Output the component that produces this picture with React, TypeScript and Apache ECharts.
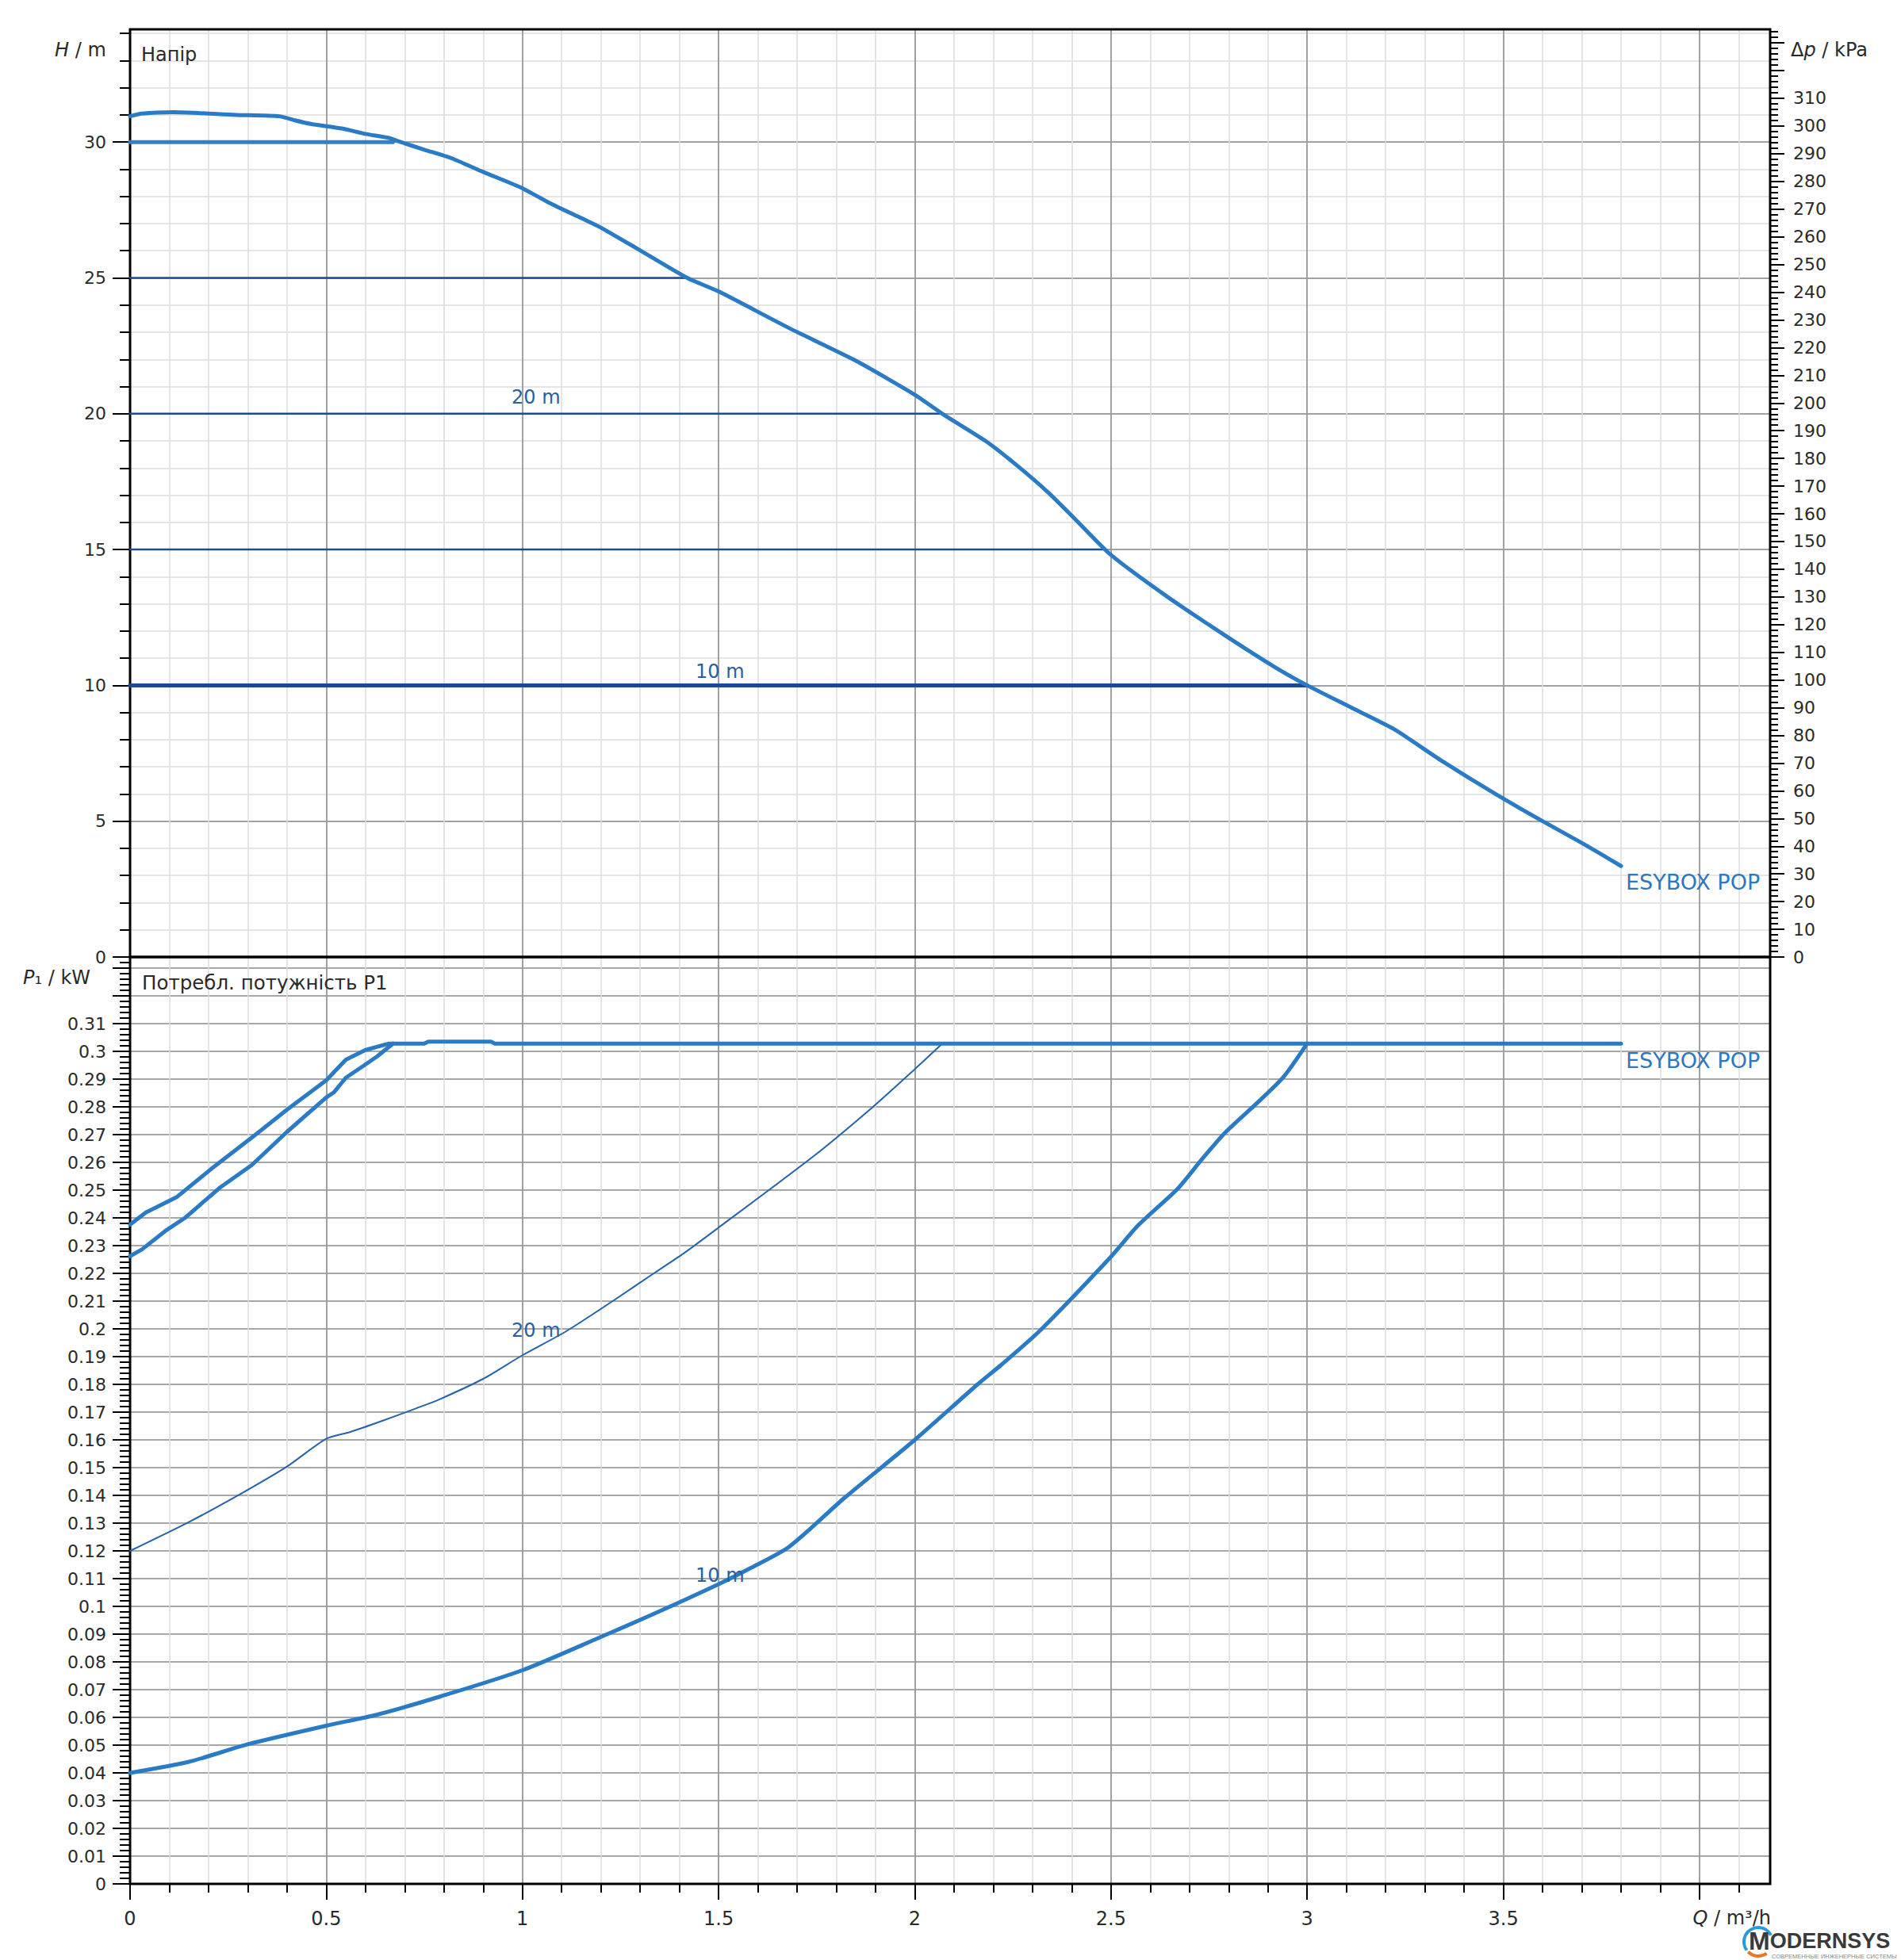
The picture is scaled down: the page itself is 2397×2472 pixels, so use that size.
import React, { useEffect, useRef } from 'react';
import * as echarts from 'echarts';

// ---------- axis ranges ----------
const Q_MAX = 4.18; // m3/h
const H_MAX = 34.15; // m
const P_MAX = 0.334; // kW
const KPA_PER_M = 9.80665;

// ---------- tick values ----------
const steps = (count: number, step: number) =>
  Array.from({ length: count + 1 }, (_, i) => +(i * step).toFixed(4));

const qTickMajor = [0, 0.5, 1, 1.5, 2, 2.5, 3, 3.5, 4];
const qLabels = [0, 0.5, 1, 1.5, 2, 2.5, 3, 3.5];
const qTickMinor = steps(41, 0.1);
const hTickMajor = [0, 5, 10, 15, 20, 25, 30];
const hTickMinor = steps(34, 1);
const kpaTickMajor = steps(33, 10);
const kpaLabels = steps(31, 10);
const kpaTickMinor = steps(167, 2);
const pTickMajor = steps(33, 0.01);
const pLabels = steps(31, 0.01);
const pTickMinor = steps(167, 0.002);

// ---------- head curves (Q m3/h, H m) ----------
const qHeadMax = [0, 0.03, 0.11, 0.27, 0.38, 0.42, 0.46, 0.54, 0.6, 0.66, 0.69, 0.75, 0.82, 0.9, 1.0, 1.07, 1.15, 1.2, 1.29, 1.42, 1.5, 1.68, 1.85, 2.0, 2.07, 2.18, 2.26, 2.34, 2.41, 2.5, 2.64, 2.8, 2.92, 3.0, 3.11, 3.22, 3.34, 3.48, 3.6, 3.7, 3.8];
const hHeadMax = [30.95, 31.05, 31.1, 31.0, 30.95, 30.8, 30.67, 30.5, 30.3, 30.15, 30.0, 29.72, 29.4, 28.9, 28.3, 27.75, 27.2, 26.85, 26.1, 25.0, 24.5, 23.15, 21.95, 20.7, 20.0, 19.0, 18.1, 17.1, 16.1, 14.8, 13.3, 11.75, 10.65, 10.0, 9.2, 8.4, 7.25, 6.0, 5.0, 4.2, 3.35];

const qConst30 = [0, 0.67];
const hConst30 = [30, 30];
const qConst25 = [0, 1.42];
const hConst25 = [25, 25];
const qConst20 = [0, 2.065];
const hConst20 = [20, 20];
const qConst15 = [0, 2.48];
const hConst15 = [15, 15];
const qConst10 = [0, 3.0];
const hConst10 = [10, 10];

// ---------- power curves (Q m3/h, P1 kW) ----------
const qPowerMax = [0, 0.04, 0.12, 0.21, 0.32, 0.4, 0.5, 0.55, 0.6, 0.66, 0.75, 0.76, 0.92, 0.93, 3.8];
const pPowerMax = [0.2376, 0.2419, 0.2476, 0.258, 0.27, 0.279, 0.2896, 0.297, 0.3005, 0.3028, 0.3028, 0.3035, 0.3035, 0.3028, 0.3028];

const qPower30 = [0, 0.03, 0.09, 0.14, 0.23, 0.31, 0.4, 0.5, 0.52, 0.55, 0.6, 0.63, 0.67];
const pPower30 = [0.2262, 0.2286, 0.2353, 0.24, 0.251, 0.259, 0.271, 0.2834, 0.2853, 0.2905, 0.2953, 0.2982, 0.3028];

const qPower20 = [0, 0.15, 0.28, 0.4, 0.5, 0.56, 0.64, 0.73, 0.79, 0.9, 1.0, 1.11, 1.23, 1.34, 1.41, 1.5, 1.74, 1.89, 2.0, 2.07];
const pPower20 = [0.12, 0.1304, 0.1404, 0.1504, 0.1604, 0.1628, 0.1667, 0.1714, 0.1747, 0.182, 0.1905, 0.199, 0.21, 0.2205, 0.2271, 0.2365, 0.262, 0.2796, 0.2936, 0.3028];

const qPower10 = [0, 0.15, 0.3, 0.5, 0.63, 0.79, 1.0, 1.2, 1.33, 1.5, 1.58, 1.68, 1.82, 2.0, 2.16, 2.22, 2.32, 2.5, 2.57, 2.67, 2.73, 2.79, 2.88, 2.94, 3.0];
const pPower10 = [0.04, 0.044, 0.0503, 0.057, 0.061, 0.0675, 0.077, 0.089, 0.097, 0.108, 0.1137, 0.1215, 0.139, 0.16, 0.18, 0.187, 0.1995, 0.226, 0.2374, 0.2505, 0.2608, 0.2706, 0.2824, 0.2908, 0.3028];

// ---------- styles ----------
const FONT = '"DejaVu Sans", Verdana, sans-serif';
const LOGO_FONT = '"Liberation Sans", Arial, sans-serif';
const TEXT = '#2a2a2a';
const MAJOR = '#8a8a8a';
const MINOR = '#dcdcdc';
const CURVE = '#2a7bc6';
const DARK = '#1d4d8e';
const LABEL_BLUE = '#2f78bd';
const TICK = { color: '#000', width: 2 };

const zip = (xs: number[], ys: number[]) => xs.map((x, i) => [x, ys[i]]);
const fmt = (v: number) => String(+(+v).toFixed(3));

function line(name: string, xs: number[], ys: number[], color: string, width: number, bottom: boolean, z = 3, smooth: any = false) {
  return {
    name,
    type: 'line',
    xAxisIndex: bottom ? 3 : 1,
    yAxisIndex: bottom ? 5 : 1,
    data: zip(xs, ys),
    symbol: 'none',
    showSymbol: false,
    smooth,
    z,
    silent: true,
    emphasis: { disabled: true },
    lineStyle: { color, width, cap: 'round', join: 'round' },
    itemStyle: { color },
  };
}

function txt(text: string, x: number, y: number, size: number, fill: string, extra: any = {}) {
  return {
    type: 'text',
    x,
    y,
    silent: true,
    z: 10,
    style: {
      text,
      fill,
      fontSize: size,
      fontFamily: FONT,
      align: 'left',
      verticalAlign: 'middle',
      ...extra,
    },
  };
}

const italic = (size: number) => ({ i: { fontStyle: 'italic', fontSize: size, lineHeight: size, fontFamily: FONT, fill: TEXT } });

export default function App() {
  const ref = useRef<HTMLDivElement>(null);

  useEffect(() => {
    if (!ref.current) return;
    const chart = echarts.init(ref.current, undefined, { renderer: 'svg' });

    const gridBase = {
      left: 164,
      width: 2068,
      show: true,
      borderColor: '#000',
      borderWidth: 3,
      backgroundColor: 'transparent',
      containLabel: false,
      outerBoundsMode: 'none',
      z: 1,
    };

    const xBase = (gridIndex: number, interval: number, split: string) => ({
      type: 'value',
      gridIndex,
      min: 0,
      max: Q_MAX,
      interval,
      position: 'bottom',
      axisLine: { show: false, onZero: false },
      axisTick: { show: false },
      axisLabel: { show: false },
      splitLine: { show: true, lineStyle: { color: split, width: 1.5 } },
      minorTick: { show: false },
      minorSplitLine: { show: false },
      z: 0,
    });

    const yBase = (gridIndex: number, max: number, interval: number, position: string) => ({
      type: 'value',
      gridIndex,
      min: 0,
      max,
      interval,
      position,
      axisLine: { show: false, onZero: false },
      axisTick: { show: false },
      axisLabel: { show: false },
      splitLine: { show: false },
      minorTick: { show: false },
      minorSplitLine: { show: false },
      z: 0,
    });

    const yLabelStyle = { color: TEXT, fontSize: 22, fontFamily: FONT };
    const xLabelStyle = { color: TEXT, fontSize: 24, fontFamily: FONT };

    const option: any = {
      animation: false,
      backgroundColor: '#fff',
      grid: [
        { ...gridBase, top: 37, height: 1170 },
        { ...gridBase, top: 1207, height: 1169 },
      ],
      xAxis: [
        xBase(0, 0.1, MINOR),
        xBase(0, 0.5, MAJOR),
        {
          ...xBase(1, 0.1, MINOR),
          axisTick: { show: true, inside: false, length: 11, customValues: qTickMinor, lineStyle: TICK },
        },
        {
          ...xBase(1, 0.5, MAJOR),
          axisTick: { show: true, inside: false, length: 20, customValues: qTickMajor, lineStyle: TICK },
          axisLabel: { show: true, customValues: qLabels, margin: 32, formatter: fmt, ...xLabelStyle },
        },
      ],
      yAxis: [
        {
          ...yBase(0, H_MAX, 1, 'left'),
          axisTick: { show: true, inside: false, length: 13, customValues: hTickMinor, lineStyle: TICK },
          splitLine: { show: true, lineStyle: { color: MINOR, width: 1.5 } },
        },
        {
          ...yBase(0, H_MAX, 5, 'left'),
          axisTick: { show: true, inside: false, length: 22, customValues: hTickMajor, lineStyle: TICK },
          axisLabel: { show: true, customValues: hTickMajor, margin: 30, formatter: fmt, padding: [0, 0, 8, 0], ...yLabelStyle },
          splitLine: { show: true, lineStyle: { color: MAJOR, width: 1.5 } },
        },
        {
          ...yBase(0, H_MAX * KPA_PER_M, 2, 'right'),
          axisTick: { show: true, inside: false, length: 10, customValues: kpaTickMinor, lineStyle: TICK },
        },
        {
          ...yBase(0, H_MAX * KPA_PER_M, 10, 'right'),
          axisTick: { show: true, inside: false, length: 18, customValues: kpaTickMajor, lineStyle: TICK },
          axisLabel: { show: true, customValues: kpaLabels, margin: 29, formatter: fmt, padding: [0, 0, 8, 0], ...yLabelStyle },
        },
        {
          ...yBase(1, P_MAX, 0.002, 'left'),
          axisTick: { show: true, inside: false, length: 13, customValues: pTickMinor, lineStyle: TICK },
        },
        {
          ...yBase(1, P_MAX, 0.01, 'left'),
          axisTick: { show: true, inside: false, length: 22, customValues: pTickMajor, lineStyle: TICK },
          axisLabel: { show: true, customValues: pLabels, margin: 30, formatter: fmt, ...yLabelStyle },
          splitLine: { show: true, lineStyle: { color: MAJOR, width: 1.5 } },
        },
      ],
      series: [
        line('H 25 m', qConst25, hConst25, DARK, 2.5, false),
        line('H 20 m', qConst20, hConst20, DARK, 2.5, false),
        line('H 15 m', qConst15, hConst15, DARK, 2.5, false),
        line('H 10 m', qConst10, hConst10, '#1a4a90', 5, false),
        line('H 30 m', qConst30, hConst30, '#3a7ec2', 5, false),
        line('ESYBOX POP H', qHeadMax, hHeadMax, CURVE, 5, false, 4, 0.2),
        line('P 20 m', qPower20, pPower20, '#2563aa', 2, true, 3, 0.25),
        line('P 10 m', qPower10, pPower10, CURVE, 5, true, 3, 0.25),
        line('P 30 m', qPower30, pPower30, CURVE, 5, true),
        line('ESYBOX POP P', qPowerMax, pPowerMax, CURVE, 5, true, 4),
      ],
      graphic: [
        txt('{i|H} / m', 69, 63, 24, TEXT, { rich: italic(24) }),
        txt('Напір', 178, 69, 24, TEXT),
        txt('Δ{i|p} / kPa', 2258, 63, 24, TEXT, { rich: italic(24) }),
        txt('{i|P}₁ / kW', 29, 1233, 24, TEXT, { rich: italic(24) }),
        txt('Потребл. потужність P1', 179, 1239, 24.5, TEXT),
        txt('ESYBOX POP', 2050, 1112, 27, LABEL_BLUE),
        txt('ESYBOX POP', 2050, 1337, 27, LABEL_BLUE),
        txt('20 m', 645, 501, 24, '#2c5ea0'),
        txt('10 m', 877, 847, 24, '#2c5ea0'),
        txt('20 m', 645, 1678, 24, '#2c5ea0'),
        txt('10 m', 877, 1987, 24, '#2c5ea0'),
        txt('{i|Q} / m³/h', 2233, 2419, 24, TEXT, { align: 'right', lineHeight: 24, rich: italic(24) }),
        // logo
        {
          type: 'arc',
          silent: true,
          z: 10,
          shape: { cx: 2217, cy: 2449, r: 18, startAngle: Math.PI * 0.8, endAngle: Math.PI * 1.85, clockwise: true },
          style: { stroke: '#2b9ad8', lineWidth: 4, fill: 'none' },
        },
        {
          type: 'arc',
          silent: true,
          z: 10,
          shape: { cx: 2217, cy: 2449, r: 18, startAngle: Math.PI * 0.3, endAngle: Math.PI * 0.75, clockwise: true },
          style: { stroke: '#e8772e', lineWidth: 4, fill: 'none' },
        },
        txt('{m|M}{r|ODERNSYS}', 2205, 2448, 27, '#3a3a3a', {
          fontWeight: 'bold',
          fontFamily: LOGO_FONT,
          lineHeight: 26,
          rich: {
            m: { fontSize: 32, lineHeight: 26, fontWeight: 'bold', fontFamily: LOGO_FONT, fill: '#3a3a3a' },
            r: { fontSize: 27, lineHeight: 26, fontWeight: 'bold', fontFamily: LOGO_FONT, fill: '#3a3a3a' },
          },
        }),
        txt('СОВРЕМЕННЫЕ ИНЖЕНЕРНЫЕ СИСТЕМЫ', 2234, 2467, 7.5, '#888', { fontFamily: LOGO_FONT, lineHeight: 8 }),
      ],
    };

    chart.setOption(option);
    return () => chart.dispose();
  }, []);

  return (
    <div
      ref={ref}
      style={{ position: 'absolute', left: 0, top: 0, width: 2397, height: 2472, background: '#fff' }}
    />
  );
}
